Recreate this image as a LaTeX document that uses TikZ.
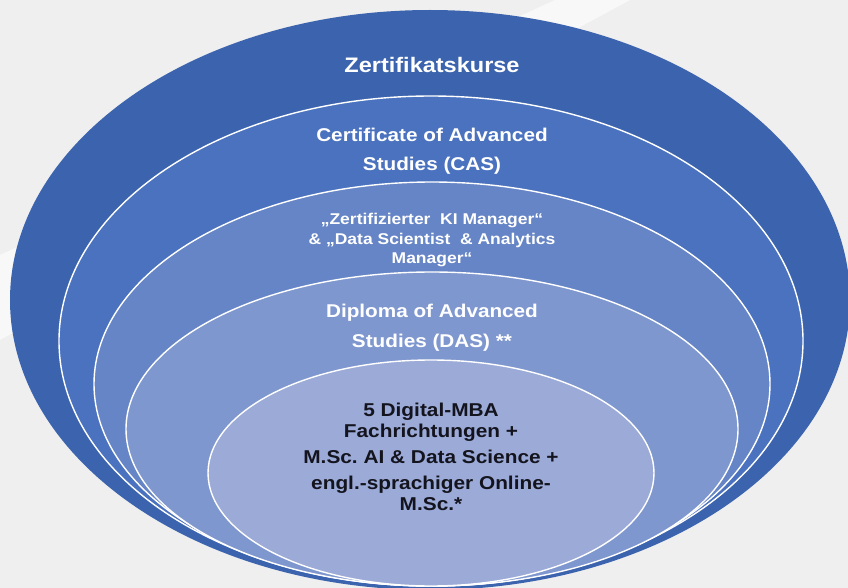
\documentclass[tikz,border=0pt]{standalone}
\usepackage{fontspec}
\setmainfont{Liberation Sans}[FakeStretch=1.12]
\usepackage{tikz}
\frenchspacing

\definecolor{bgGray}{HTML}{EFEFEF}
\definecolor{ringA}{HTML}{3C64AE}
\definecolor{ringB}{HTML}{4A72BF}
\definecolor{ringC}{HTML}{6685C6}
\definecolor{ringD}{HTML}{7F97CF}
\definecolor{ringE}{HTML}{9BAAD7}
\definecolor{darkTxt}{HTML}{14141E}

\tikzset{
  ring/.style={draw=white, line width=1.4pt},
  lbl/.style={text=white, font=\bfseries, align=center, inner sep=0pt},
}

\begin{document}
\begin{tikzpicture}[x=1pt,y=-1pt]
    \useasboundingbox (0,0) rectangle (848,588);
    \fill[color=bgGray](0,0) rectangle (848,588);
    \fill[color=white, opacity=0.6](555,0) -- (630,0) -- (0,340) -- (0,255) -- cycle;
    \clip (0,0) rectangle (848,588);
    \fill[color=ringA](430,300) ellipse (420 and 290) node[lbl, font=\bfseries\fontsize{21}{25}\selectfont] (zert) at (432,65) {Zertifikatskurse};
    \draw[ring, fill=ringB](431,341) ellipse (372 and 245) node[lbl, font=\bfseries\fontsize{18.5}{29}\selectfont] (cas) at (432,151) {Certificate of Advanced\\Studies (CAS)};
    \draw[ring, fill=ringC](432,384) ellipse (338 and 202) node[lbl, font=\bfseries\fontsize{15.6}{19.5}\selectfont] (kim) at (432,240) {„Zertifizierter\ \ KI Manager“\\\& „Data Scientist\ \ \& Analytics\\Manager“};
    \draw[ring, fill=ringD](432,429) ellipse (306 and 157) node[lbl, font=\bfseries\fontsize{18.5}{30}\selectfont] (das) at (432,328) {Diploma of Advanced\\Studies (DAS) **};
    \draw[ring, fill=ringE](431,473) ellipse (223 and 113) node[lbl, text=darkTxt, font=\bfseries\fontsize{18.6}{21}\selectfont] (msc) at (431,457) {5 Digital-MBA\\Fachrichtungen +\\[5pt]M.Sc. AI \& Data Science +\\[5pt]engl.-sprachiger Online-\\M.Sc.*};
  \end{tikzpicture}
\end{document}
